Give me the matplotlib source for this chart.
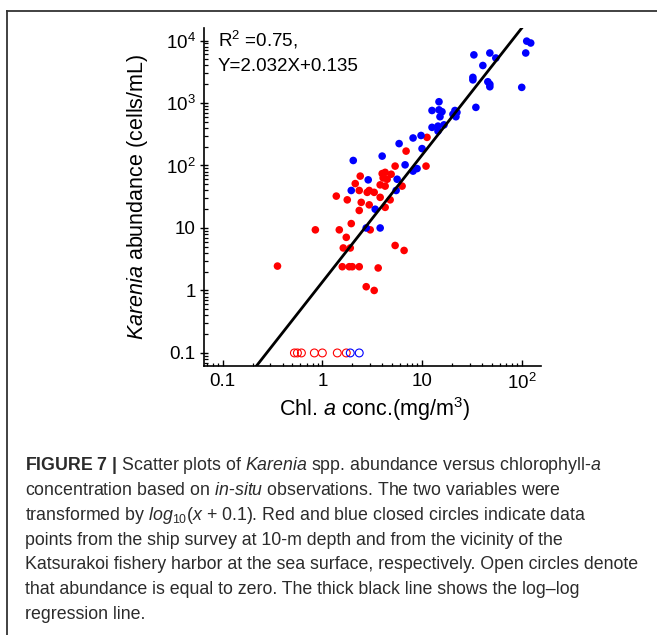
import numpy as np
import matplotlib.pyplot as plt
from matplotlib.lines import Line2D

plt.rcParams['font.family'] = ['Liberation Sans', 'DejaVu Sans']
plt.rcParams['mathtext.fontset'] = 'custom'
plt.rcParams['mathtext.rm'] = 'Liberation Sans'
plt.rcParams['mathtext.it'] = 'Liberation Sans:italic'
plt.rcParams['mathtext.bf'] = 'Liberation Sans:bold'

# values, as log10 (x + 0.1)
blue_log_chl = [2.05, 2.09, 2.04, 2.00, 1.52, 1.68, 1.74, 1.61, 1.51, 1.51, 1.66, 1.68, 1.68,
                1.54, 1.17, 1.10, 1.17, 1.20, 1.18, 1.33, 1.35, 1.31, 1.34, 1.10, 1.16, 1.22,
                1.16, 0.91, 0.99, 1.00, 0.77, 0.60, 0.31, 0.83, 0.95, 0.91, 0.46, 0.75, 0.29,
                0.74, 0.53, 0.44, 0.58]
blue_log_abund = [3.99, 3.96, 3.80, 3.25, 3.77, 3.80, 3.72, 3.60, 3.41, 3.37, 3.34, 3.30, 3.26,
                  2.93, 3.02, 2.88, 2.89, 2.86, 2.78, 2.88, 2.85, 2.82, 2.78, 2.61, 2.63, 2.65,
                  2.55, 2.44, 2.48, 2.27, 2.35, 2.15, 2.08, 2.01, 1.95, 1.91, 1.77, 1.78, 1.60,
                  1.60, 1.30, 1.00, 1.00]

red_log_chl = [1.05, 0.84, 1.04, 0.73, 0.69, 0.60, 0.63, 0.61, 0.65, 0.38,
               0.33, 0.58, 0.63, 0.80, 0.37, 0.47, 0.45, 0.52, 0.14, 0.58,
               0.25, 0.68, 0.39, 0.47, 0.63, 0.37, 0.29, 0.48, -0.07, 0.17,
               0.24, 0.21, 0.28, 0.73, 0.82, 0.20, 0.27, 0.30, 0.37, 0.56,
               0.44, 0.52, -0.45]
red_log_abund = [2.45, 2.23, 1.99, 1.99, 1.86, 1.87, 1.89, 1.80, 1.78, 1.83,
                 1.71, 1.69, 1.67, 1.67, 1.60, 1.60, 1.57, 1.57, 1.51, 1.49,
                 1.45, 1.45, 1.41, 1.37, 1.33, 1.28, 1.07, 0.97, 0.97, 0.97,
                 0.85, 0.68, 0.68, 0.72, 0.64, 0.38, 0.38, 0.38, 0.38, 0.36,
                 0.06, 0.00, 0.39]

# abundance == 0 -> log10(0 + 0.1) = -1
zero_red_log_chl = [-0.28, -0.25, -0.21, -0.08, 0.00, 0.15, 0.24]
zero_blue_log_chl = [0.28, 0.37]
zero_log_abund = -1.0

slope = 2.032
intercept = 0.135
r2 = 0.75

xtick_vals = [0.1, 1, 10, 100]
xtick_labels = ['0.1', '1', '10', r'$10^2$']
ytick_vals = [0.1, 1, 10, 100, 1000, 10000]
ytick_labels = ['0.1', '1', '10', r'$10^2$', r'$10^3$', r'$10^4$']

caption = [
    r'$\mathbf{FIGURE\ 7\ |}$ Scatter plots of $\mathit{Karenia}$ spp. abundance versus chlorophyll-$\mathit{a}$',
    r'concentration based on $\mathit{in}$-$\mathit{situ}$ observations. The two variables were',
    r'transformed by $\mathit{log}_{10}(\mathit{x}$ + 0.1). Red and blue closed circles indicate data',
    'points from the ship survey at 10-m depth and from the vicinity of the',
    'Katsurakoi fishery harbor at the sea surface, respectively. Open circles denote',
    'that abundance is equal to zero. The thick black line shows the log\u2013log',
    'regression line.',
]

fig = plt.figure(figsize=(6.57, 6.35), dpi=100)
ax = fig.add_axes([0.3105, 0.4241, 0.5125, 0.5318])

ax.scatter(10 ** np.array(red_log_chl), 10 ** np.array(red_log_abund), s=30, color='#ff0000',
           edgecolors='none', zorder=3)
ax.scatter(10 ** np.array(blue_log_chl), 10 ** np.array(blue_log_abund), s=30, color='#0000ff',
           edgecolors='none', zorder=3)
ax.scatter(10 ** np.array(zero_red_log_chl), np.full(len(zero_red_log_chl), 10 ** zero_log_abund),
           s=32, facecolors='none', edgecolors='#ff0000', linewidths=0.8, zorder=3)
ax.scatter(10 ** np.array(zero_blue_log_chl), np.full(len(zero_blue_log_chl), 10 ** zero_log_abund),
           s=32, facecolors='none', edgecolors='#0000ff', linewidths=0.8, zorder=3)

# regression line
xl = np.array([0.2, 100])
yl = 10 ** (slope * np.log10(xl) + intercept)
ax.plot(xl, yl, color='black', lw=2.0, zorder=4)

ax.set_xscale('log')
ax.set_yscale('log')
ax.set_xlim(0.065, 155)
ax.set_ylim(0.0625, 15850)

ax.set_xticks(xtick_vals)
ax.set_xticklabels(xtick_labels)
ax.set_yticks(ytick_vals)
ax.set_yticklabels(ytick_labels)

ax.spines['top'].set_visible(False)
ax.spines['right'].set_visible(False)
for s in ['left', 'bottom']:
    ax.spines[s].set_linewidth(1.2)

ax.tick_params(axis='x', which='major', direction='in', length=4.5, width=1, labelsize=13.5, pad=5)
ax.tick_params(axis='x', which='minor', direction='in', length=2.5, width=0.9)
ax.tick_params(axis='y', which='major', direction='inout', length=6, width=1, labelsize=13.5, pad=3)
ax.tick_params(axis='y', which='minor', direction='in', length=3, width=0.9)

ax.set_xlabel(r'Chl. $\mathit{a}$ conc.(mg/m$^3$)', fontsize=15.5)
ax.xaxis.set_label_coords(0.508, -0.088)
ax.set_ylabel(r'$\mathit{Karenia}$ abundance (cells/mL)', fontsize=15.5)
ax.yaxis.set_label_coords(-0.16, 0.5)

ax.text(0.041, 0.9645, r'R$^2$ =%.2f,' % r2, transform=ax.transAxes, fontsize=13.5,
        ha='left', va='center')
ax.text(0.041, 0.8855, 'Y=%.3fX+%.3f' % (slope, intercept), transform=ax.transAxes,
        fontsize=13.5, ha='left', va='center')

# frame around the whole figure panel
fig.add_artist(Line2D([7 / 657, 1], [1 - 11 / 635, 1 - 11 / 635], transform=fig.transFigure,
                      color='#333333', lw=1.3))
fig.add_artist(Line2D([7 / 657, 7 / 657], [1 - 11 / 635, 0], transform=fig.transFigure,
                      color='#333333', lw=1.3))

for i, line in enumerate(caption):
    y = 466 + i * 24.7
    fig.text(25 / 657, 1 - y / 635, line, fontsize=12.8, color='#2b2b2b', ha='left', va='center')

fig.savefig('out.png', dpi=100)
